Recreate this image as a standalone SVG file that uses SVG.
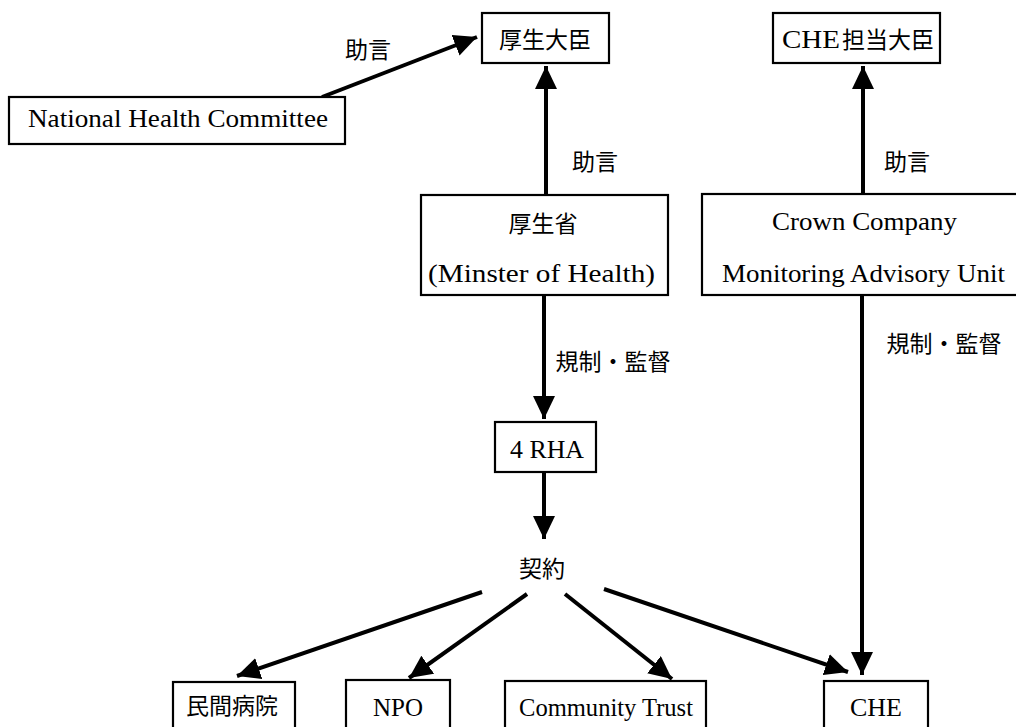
<svg xmlns="http://www.w3.org/2000/svg" width="1016" height="727" viewBox="0 0 1016 727">
<style>
.box{fill:#fff;stroke:#000;stroke-width:2.2}
.lat{font-family:"Liberation Serif","Times New Roman",serif;font-size:26px;fill:#000}
.cjk{font-family:"Noto Sans CJK JP","Noto Sans CJK SC",sans-serif;font-size:23px;fill:#000;text-anchor:middle;dominant-baseline:central}
.edge{stroke:#000;stroke-width:4;fill:none;marker-end:url(#ah)}
</style>
<defs>
<marker id="ah" markerUnits="userSpaceOnUse" markerWidth="24" markerHeight="22" refX="23" refY="11" orient="auto" viewBox="0 0 24 22">
<path d="M0,0 L23,11 L0,22 z" fill="#000"/>
</marker>
</defs>
<rect width="1016" height="727" fill="#fff"/>
<g id="connectors">
<line class="edge" x1="322" y1="97" x2="477" y2="37"/>
<line class="edge" x1="546" y1="194" x2="546" y2="66"/>
<line class="edge" x1="863" y1="194" x2="863" y2="66"/>
<line class="edge" x1="544" y1="296" x2="544" y2="419"/>
<line class="edge" x1="544" y1="472" x2="544" y2="539"/>
<line class="edge" x1="862" y1="296" x2="862" y2="675"/>
<line class="edge" x1="482" y1="592" x2="237" y2="676"/>
<line class="edge" x1="527" y1="594" x2="409" y2="678"/>
<line class="edge" x1="565" y1="594" x2="672" y2="679"/>
<line class="edge" x1="604" y1="589" x2="848" y2="672"/>
</g>
<g id="labels">
<text class="cjk" x="368" y="48">助言</text>
<text class="cjk" x="595" y="160">助言</text>
<text class="cjk" x="907" y="160">助言</text>
<text class="cjk" x="613" y="360">規制・監督</text>
<text class="cjk" x="944" y="342">規制・監督</text>
<text class="cjk" x="542" y="567">契約</text>
</g>
<g id="nhc">
<rect class="box" x="9" y="97" width="336" height="47"/>
<text class="lat" x="28" y="127" textLength="300" lengthAdjust="spacingAndGlyphs">National Health Committee</text>
</g>
<g id="minister">
<rect class="box" x="482" y="13" width="127" height="50"/>
<text class="cjk" x="545" y="38">厚生大臣</text>
</g>
<g id="che-minister">
<rect class="box" x="773" y="13" width="167" height="50"/>
<text x="782" y="48"><tspan class="lat" x="782" textLength="58" lengthAdjust="spacingAndGlyphs">CHE</tspan><tspan font-family="Noto Sans CJK JP, Noto Sans CJK SC, sans-serif" font-size="23" x="842">担当大臣</tspan></text>
</g>
<g id="moh">
<rect class="box" x="421" y="195" width="247" height="100"/>
<text class="cjk" x="543" y="222">厚生省</text>
<text class="lat" x="428" y="282" textLength="227" lengthAdjust="spacingAndGlyphs">(Minster of Health)</text>
</g>
<g id="crown">
<rect class="box" x="702" y="194" width="330" height="101"/>
<text class="lat" x="772" y="230" textLength="185" lengthAdjust="spacingAndGlyphs">Crown Company</text>
<text class="lat" x="722" y="282" textLength="283" lengthAdjust="spacingAndGlyphs">Monitoring Advisory Unit</text>
</g>
<g id="rha">
<rect class="box" x="495" y="422" width="101" height="50"/>
<text class="lat" x="510" y="458" textLength="74" lengthAdjust="spacingAndGlyphs">4 RHA</text>
</g>
<g id="private-hospital">
<rect class="box" x="173" y="682" width="122" height="60"/>
<text class="cjk" x="232" y="704">民間病院</text>
</g>
<g id="npo">
<rect class="box" x="346" y="680" width="104" height="60"/>
<text class="lat" x="373" y="716" textLength="50" lengthAdjust="spacingAndGlyphs">NPO</text>
</g>
<g id="community-trust">
<rect class="box" x="505" y="681" width="201" height="60"/>
<text class="lat" x="519" y="716" textLength="174" lengthAdjust="spacingAndGlyphs">Community Trust</text>
</g>
<g id="che">
<rect class="box" x="824" y="681" width="104" height="60"/>
<text class="lat" x="850" y="716" textLength="52" lengthAdjust="spacingAndGlyphs">CHE</text>
</g>
</svg>
